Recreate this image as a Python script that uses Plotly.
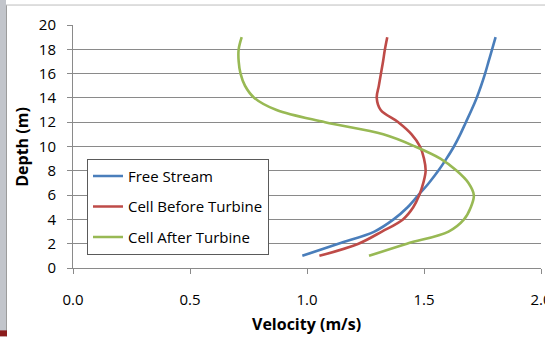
import plotly.graph_objects as go

# ---- data ----
depth = list(range(1, 20))
free_stream = [0.980, 1.134, 1.288, 1.370, 1.430, 1.476, 1.521, 1.561, 1.596, 1.628,
               1.655, 1.679, 1.703, 1.725, 1.744, 1.761, 1.776, 1.791, 1.806]
cell_before = [1.053, 1.220, 1.320, 1.410, 1.454, 1.480, 1.497, 1.507, 1.500, 1.483,
               1.447, 1.390, 1.315, 1.298, 1.307, 1.316, 1.325, 1.333, 1.343]
cell_after = [1.265, 1.427, 1.605, 1.671, 1.700, 1.713, 1.690, 1.640, 1.570, 1.462,
              1.326, 1.077, 0.870, 0.775, 0.735, 0.716, 0.708, 0.708, 0.721]

series_names = ["Free Stream", "Cell Before Turbine", "Cell After Turbine"]
series_values = [free_stream, cell_before, cell_after]
series_colors = ["#4A7EBB", "#BE4B48", "#98B954"]

x_ticks = [0.0, 0.5, 1.0, 1.5, 2.0]
y_ticks = list(range(0, 21, 2))

W, H = 545, 337
ML, MR, MT, MB = 73, 4, 25, 68.5
PW, PH = W - ML - MR, H - MT - MB


def px(x):
    return (x - ML) / PW


def py(y):
    return (H - MB - y) / PH


FONT = "'Open Sans', Lato, sans-serif"

fig = go.Figure()
for name, vals, col in zip(series_names, series_values, series_colors):
    fig.add_trace(go.Scatter(
        x=vals, y=depth, mode="lines", name=name, legendgroup=name,
        line=dict(color=col, width=2.6, shape="spline", smoothing=1.0),
    ))

grey = "#8a8a8a"
fig.update_layout(
    width=W, height=H,
    margin=dict(l=ML, r=MR, t=MT, b=MB, autoexpand=False),
    paper_bgcolor="white", plot_bgcolor="white",
    font=dict(family=FONT, size=14, color="black"),
    showlegend=True,
    legend=dict(
        x=px(87), y=py(159), xanchor="left", yanchor="top",
        bgcolor="white", bordercolor="#5a5a5a", borderwidth=1,
        font=dict(family=FONT, size=15, color="black"),
        tracegroupgap=8,
    ),
    xaxis=dict(
        range=[0, 2], tickvals=x_ticks, tickformat=".1f",
        showgrid=False, zeroline=False, showline=True, linecolor=grey, linewidth=1,
        ticks="outside", ticklen=5, tickcolor=grey,
        ticklabelstandoff=13, automargin=False, ticklabeloverflow="allow",
        tickfont=dict(family=FONT, size=15, color="black"),
    ),
    yaxis=dict(
        range=[0, 20], tickvals=y_ticks,
        showgrid=True, gridcolor=grey, gridwidth=1, zeroline=False,
        showline=True, linecolor=grey, linewidth=1,
        ticks="outside", ticklen=5, tickcolor=grey,
        ticklabelstandoff=8, automargin=False,
        tickfont=dict(family=FONT, size=15, color="black"),
    ),
    annotations=[
        dict(text="<b>Depth (m)</b>", x=px(22), y=py(147), xref="paper", yref="paper",
             xanchor="center", yanchor="middle",
             textangle=-90, showarrow=False, font=dict(family=FONT, size=16, color="black")),
        dict(text="<b>Velocity (m/s)</b>", x=px(306), y=py(325), xref="paper", yref="paper",
             xanchor="center", yanchor="middle",
             showarrow=False, font=dict(family=FONT, size=16, color="black")),
    ],
    shapes=[
        dict(type="rect", xref="paper", yref="paper", x0=px(0), x1=px(6), y0=py(0), y1=py(H),
             fillcolor="#c2c5cb", line=dict(width=0), layer="below"),
        dict(type="line", xref="paper", yref="paper", x0=px(6.5), x1=px(6.5), y0=py(5), y1=py(H),
             line=dict(color="#9c9c9c", width=1)),
        dict(type="line", xref="paper", yref="paper", x0=px(6), x1=px(W), y0=py(5), y1=py(5),
             line=dict(color="#bdbdbd", width=1)),
        dict(type="rect", xref="paper", yref="paper", x0=px(0), x1=px(7), y0=py(331), y1=py(H),
             fillcolor="#8b1c1c", line=dict(width=0)),
    ],
)

fig.write_html("out.html")
